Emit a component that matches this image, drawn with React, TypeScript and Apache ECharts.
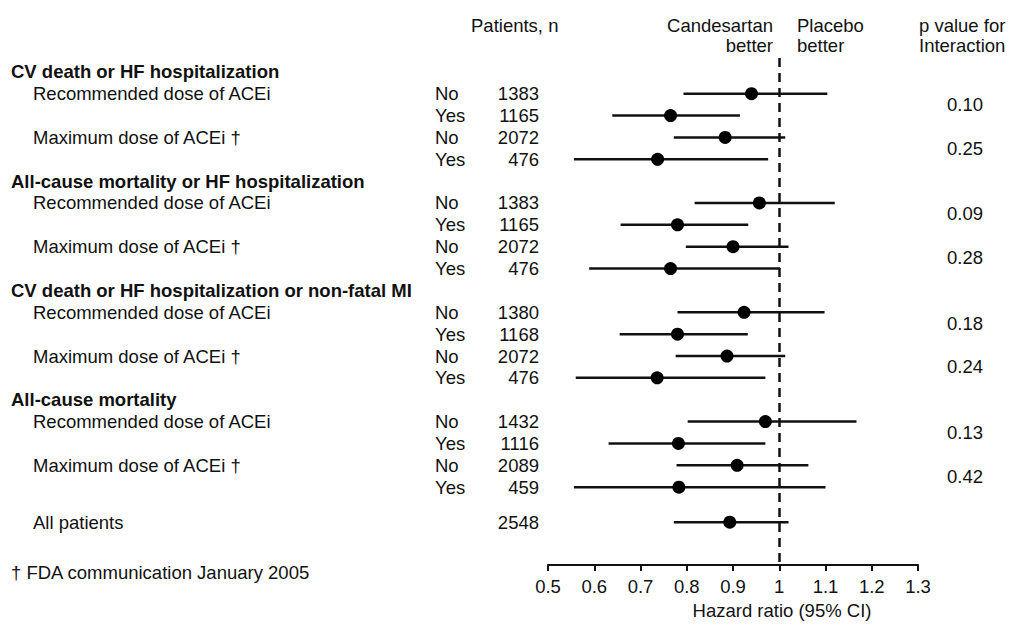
import React, { useEffect, useRef } from "react";
import * as echarts from "echarts";

const outcomes = [
  "CV death or HF hospitalization",
  "All-cause mortality or HF hospitalization",
  "CV death or HF hospitalization or non-fatal MI",
  "All-cause mortality",
];
const subgroups = ["Recommended dose of ACEi", "Maximum dose of ACEi †"];
const levels = ["No", "Yes"];
const patients = [1383, 1165, 2072, 476, 1383, 1165, 2072, 476, 1380, 1168, 2072, 476, 1432, 1116, 2089, 459];
const hazardRatio = [0.94, 0.765, 0.883, 0.737, 0.957, 0.78, 0.9, 0.765, 0.924, 0.78, 0.887, 0.736, 0.97, 0.782, 0.909, 0.783];
const ciLower = [0.793, 0.639, 0.772, 0.556, 0.817, 0.657, 0.798, 0.589, 0.78, 0.655, 0.776, 0.56, 0.802, 0.631, 0.778, 0.556];
const ciUpper = [1.104, 0.915, 1.013, 0.976, 1.12, 0.933, 1.02, 1.002, 1.098, 0.932, 1.013, 0.97, 1.167, 0.97, 1.063, 1.1];
const pInteraction = ["0.10", "0.25", "0.09", "0.28", "0.18", "0.24", "0.13", "0.42"];
const overallLabel = "All patients";
const overallN = 2548;
const overallHR = 0.893;
const overallLower = 0.772;
const overallUpper = 1.02;
const xTicks = [0.5, 0.6, 0.7, 0.8, 0.9, 1.0, 1.1, 1.2, 1.3];

const FONT = '"Liberation Sans", Arial, Helvetica, sans-serif';
const FS = 18.5;
const INK = "#111";

export default function App() {
  const ref = useRef<HTMLDivElement>(null);
  useEffect(() => {
    if (!ref.current) return;
    const chart = echarts.init(ref.current, null, { renderer: "svg" });

    // slot layout derived from row order
    const rowSlot = (i: number) => Math.floor(i / 4) * 5 + 1 + (i % 4);
    const headerSlot = (g: number) => g * 5;
    const overallSlot = outcomes.length * 5 + 0.6;

    const ciData = hazardRatio.map((_, i) => [ciLower[i], ciUpper[i], rowSlot(i)]);
    ciData.push([overallLower, overallUpper, overallSlot]);
    const pointData = hazardRatio.map((h, i) => [h, rowSlot(i)]);
    pointData.push([overallHR, overallSlot]);

    type TextRow = { slot: number; x: number; text: string; align: string; bold?: boolean };
    const texts: TextRow[] = [];
    outcomes.forEach((o, g) => {
      texts.push({ slot: headerSlot(g), x: 11, text: o, align: "left", bold: true });
      subgroups.forEach((s, k) => {
        texts.push({ slot: headerSlot(g) + 1 + 2 * k, x: 33, text: s, align: "left" });
        texts.push({ slot: headerSlot(g) + 1.5 + 2 * k, x: 947, text: pInteraction[g * 2 + k], align: "left" });
      });
    });
    patients.forEach((n, i) => {
      texts.push({ slot: rowSlot(i), x: 435, text: levels[i % 2], align: "left" });
      texts.push({ slot: rowSlot(i), x: 539, text: String(n), align: "right" });
    });
    texts.push({ slot: overallSlot, x: 33, text: overallLabel, align: "left" });
    texts.push({ slot: overallSlot, x: 539, text: String(overallN), align: "right" });

    const topText = (x: number, y: number, text: string, align: string) => ({
      type: "text",
      x,
      y,
      style: { text, fill: INK, font: `${FS}px ${FONT}`, align, verticalAlign: "middle", textAlign: align, textVerticalAlign: "middle" },
    });

    chart.setOption({
      animation: false,
      backgroundColor: "#fff",
      grid: { left: 548, right: 91, top: 58, bottom: 53 },
      xAxis: {
        type: "value",
        position: "bottom",
        min: xTicks[0],
        max: xTicks[xTicks.length - 1],
        interval: 0.1,
        splitLine: { show: false },
        axisLine: { show: true, onZero: false, lineStyle: { color: INK, width: 2 } },
        axisTick: { show: true, length: 6, lineStyle: { color: INK, width: 2 } },
        axisLabel: {
          color: INK,
          fontSize: FS,
          fontFamily: FONT,
          margin: 12,
          formatter: (v: number) => String(Math.round(v * 10) / 10),
        },
        name: "Hazard ratio (95% CI)",
        nameLocation: "middle",
        nameGap: 36,
        nameTextStyle: { color: INK, fontSize: FS, fontFamily: FONT, padding: [0, 0, 0, 98] },
      },
      yAxis: {
        type: "value",
        inverse: true,
        min: -0.632,
        max: 22.56,
        show: false,
      },
      graphic: [
        topText(471, 25, "Patients, n", "left"),
        topText(773, 25, "Candesartan", "right"),
        topText(773, 45, "better", "right"),
        topText(797, 25, "Placebo", "left"),
        topText(797, 45, "better", "left"),
        topText(919, 25, "p value for", "left"),
        topText(919, 45, "Interaction", "left"),
        topText(11, 572, "† FDA communication January 2005", "left"),
      ],
      series: [
        {
          type: "custom",
          data: ciData,
          encode: { x: [0, 1], y: 2 },
          renderItem: (params: any, api: any) => {
            const a = api.coord([api.value(0), api.value(2)]);
            const b = api.coord([api.value(1), api.value(2)]);
            return {
              type: "line",
              shape: { x1: a[0], y1: a[1], x2: b[0], y2: b[1] },
              style: { stroke: INK, lineWidth: 2.5 },
            };
          },
          z: 3,
        },
        {
          type: "scatter",
          data: pointData,
          symbol: "circle",
          symbolSize: 13,
          itemStyle: { color: "#000", opacity: 1 },
          emphasis: { disabled: true },
          z: 4,
          markLine: {
            silent: true,
            symbol: "none",
            label: { show: false },
            lineStyle: { color: INK, width: 2.5, type: [9, 6], opacity: 1 },
            data: [{ xAxis: 1 }],
          },
        },
        {
          type: "custom",
          data: texts.map((t) => [0.5, t.slot]),
          encode: { x: 0, y: 1 },
          clip: false,
          silent: true,
          renderItem: (params: any, api: any) => {
            const t = texts[params.dataIndex];
            const p = api.coord([0.5, api.value(1)]);
            return {
              type: "text",
              x: t.x,
              y: p[1],
              style: {
                text: t.text,
                fill: INK,
                font: `${t.bold ? "bold " : ""}${FS}px ${FONT}`,
                align: t.align,
                verticalAlign: "middle",
                textAlign: t.align,
                textVerticalAlign: "middle",
              },
            };
          },
        },
      ],
    });
    return () => chart.dispose();
  }, []);
  return <div ref={ref} style={{ position: "absolute", left: 0, top: 0, width: 1009, height: 625 }} />;
}
